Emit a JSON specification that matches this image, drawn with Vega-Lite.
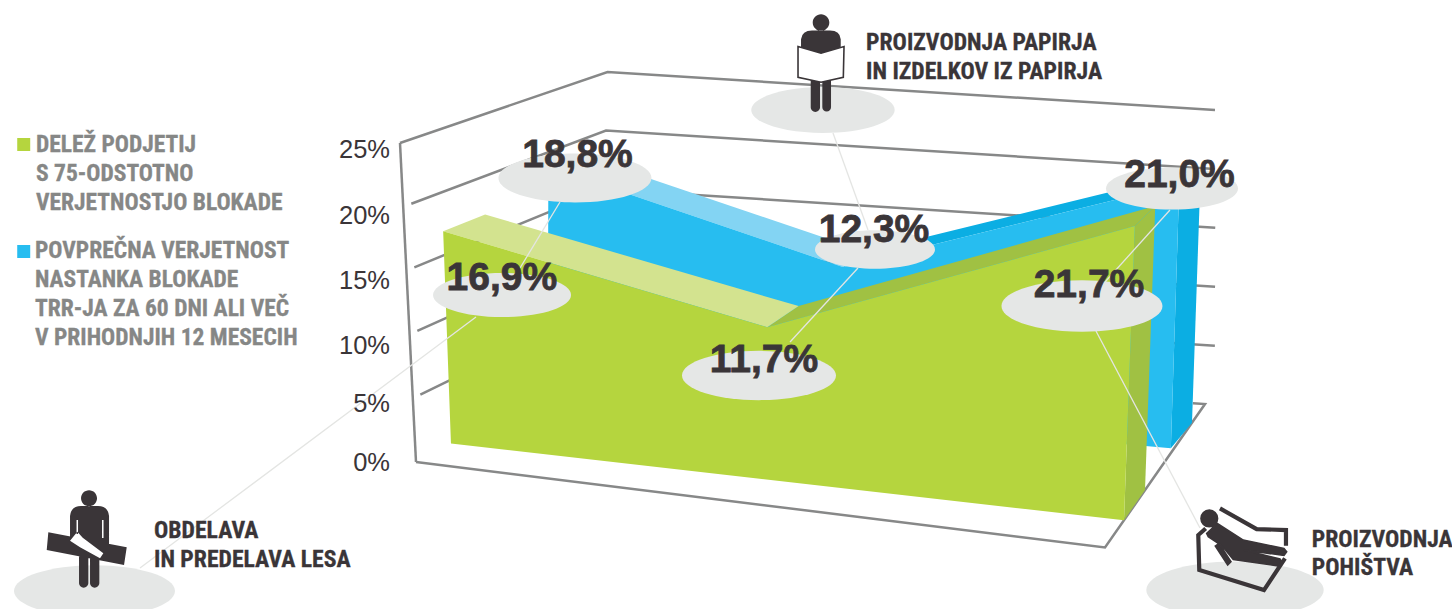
{"$schema":"https://vega.github.io/schema/vega-lite/v6.json","width":1452,"height":609,"padding":0,"autosize":{"type":"none"},"background":"white","view":{"stroke":null},
"datasets":{
"frame":[
{"g":"top","o":1,"u":0,"d":0,"v":0},{"g":"top","o":0,"u":0,"d":0,"v":25},{"g":"floor","o":0,"u":0,"d":0,"v":0},{"g":"floor","o":1,"u":1,"d":0,"v":0},{"g":"floor","o":2,"u":1,"d":1,"v":0},{"g":"floor","o":3,"u":0.98,"d":1,"v":0},
{"g":"w25","o":0,"u":0,"d":0,"v":25},{"g":"w25","o":1,"u":0,"d":1,"v":25},{"g":"w25","o":2,"u":1,"d":1,"v":25},
{"g":"w20","o":0,"u":0,"d":0.04,"v":20},{"g":"w20","o":1,"u":0,"d":1,"v":20},{"g":"w20","o":2,"u":1.003,"d":1,"v":20},
{"g":"w15","o":0,"u":0,"d":0.04,"v":15},{"g":"w15","o":1,"u":0,"d":1,"v":15},{"g":"w15","o":2,"u":1.007,"d":1,"v":15},
{"g":"w10","o":0,"u":0,"d":0.04,"v":10},{"g":"w10","o":1,"u":0,"d":1,"v":10},{"g":"w10","o":2,"u":1.01,"d":1,"v":10},
{"g":"w5","o":0,"u":0,"d":0.04,"v":5},{"g":"w5","o":1,"u":0,"d":1,"v":5},{"g":"w5","o":2,"u":1.013,"d":1,"v":5}],
"faces":[
{"f":"bside","o":0,"u":0.99,"d":0.716,"v":21},{"f":"bside","o":1,"u":1,"d":0.87,"v":21},{"f":"bside","o":2,"u":1,"d":0.87,"v":0},{"f":"bside","o":3,"u":0.995,"d":0.69,"v":0},
{"f":"bband","o":0,"u":0.465,"d":0.716,"v":12.3},{"f":"bband","o":1,"u":0.465,"d":0.87,"v":12.3},{"f":"bband","o":2,"u":1,"d":0.87,"v":21},{"f":"bband","o":3,"u":0.99,"d":0.716,"v":21},
{"f":"btop","o":0,"u":0,"d":0.716,"v":18.8},{"f":"btop","o":1,"u":0,"d":0.87,"v":18.8},{"f":"btop","o":2,"u":0.465,"d":0.87,"v":12.3},{"f":"btop","o":3,"u":0.465,"d":0.716,"v":12.3},
{"f":"bfront","o":0,"u":0,"d":0.716,"v":18.8},{"f":"bfront","o":1,"u":0.465,"d":0.716,"v":12.3},{"f":"bfront","o":2,"u":0.99,"d":0.716,"v":21},{"f":"bfront","o":3,"u":0.995,"d":0.69,"v":0},{"f":"bfront","o":4,"u":0,"d":0.716,"v":0},
{"f":"gside","o":0,"u":1,"d":0.19,"v":21.7},{"f":"gside","o":1,"u":1,"d":0.4,"v":21.7},{"f":"gside","o":2,"u":1,"d":0.4,"v":0},{"f":"gside","o":3,"u":1,"d":0.19,"v":0},
{"f":"gband","o":0,"u":0.47,"d":0.19,"v":11.7},{"f":"gband","o":1,"u":0.47,"d":0.4,"v":11.7},{"f":"gband","o":2,"u":1,"d":0.4,"v":21.7},{"f":"gband","o":3,"u":1,"d":0.19,"v":21.7},
{"f":"gtop","o":0,"u":0,"d":0.19,"v":16.9},{"f":"gtop","o":1,"u":0,"d":0.4,"v":16.9},{"f":"gtop","o":2,"u":0.47,"d":0.4,"v":11.7},{"f":"gtop","o":3,"u":0.47,"d":0.19,"v":11.7},
{"f":"gfront","o":0,"u":0,"d":0.19,"v":16.9},{"f":"gfront","o":1,"u":0.47,"d":0.19,"v":11.7},{"f":"gfront","o":2,"u":1,"d":0.19,"v":21.7},{"f":"gfront","o":3,"u":1,"d":0.19,"v":0},{"f":"gfront","o":4,"u":0,"d":0.19,"v":0}],
"leaders":[
{"g":"a","o":0,"u":20.57,"v":20.8},{"g":"a","o":1,"u":14.86,"v":15.52},
{"g":"b","o":0,"u":8.57,"v":11.6},{"g":"b","o":1,"u":-39.43,"v":-8.48},
{"g":"c","o":0,"u":59.57,"v":26.32},{"g":"c","o":1,"u":64.57,"v":18.56},
{"g":"d","o":0,"u":63.14,"v":15.52},{"g":"d","o":1,"u":53.43,"v":9.6},
{"g":"e","o":0,"u":107.71,"v":20.16},{"g":"e","o":1,"u":98.43,"v":14.4},
{"g":"f","o":0,"u":97.14,"v":10.48},{"g":"f","o":1,"u":112,"v":-5.28}],
"discs":[
{"k":"paper","u":58.14,"v":28.16},{"k":"wood","u":-45.93,"v":-10.32},{"k":"chair","u":117,"v":-10.24},
{"k":"b188","u":22.71,"v":22.72},{"k":"g169","u":12.29,"v":13.36},{"k":"b123","u":65.57,"v":17},{"k":"b210","u":108,"v":21.88},{"k":"g217","u":95.14,"v":12.48},{"k":"g117","u":49,"v":6.92}],
"values":[
{"label":"18,8%","series":"blue","value":18.8,"u":23.07,"v":23.62},
{"label":"12,3%","series":"blue","value":12.3,"u":65.43,"v":17.62},
{"label":"21,0%","series":"blue","value":21.0,"u":109.07,"v":21.98},
{"label":"16,9%","series":"green","value":16.9,"u":12.26,"v":13.76},
{"label":"11,7%","series":"green","value":11.7,"u":49.71,"v":7.24},
{"label":"21,7%","series":"green","value":21.7,"u":96.14,"v":13.18}],
"ticks":[{"t":"25%","u":-3.71,"v":24.32},{"t":"20%","u":-3.71,"v":19.04},{"t":"15%","u":-3.71,"v":13.84},{"t":"10%","u":-3.71,"v":8.64},{"t":"5%","u":-3.71,"v":4},{"t":"0%","u":-3.71,"v":-0.72}],
"captions":[
{"t":"PROIZVODNJA PAPIRJA\nIN IZDELKOV IZ PAPIRJA","u":64.29,"v":32.96},
{"t":"OBDELAVA\nIN PREDELAVA LESA","u":-37.43,"v":-6.08},
{"t":"PROIZVODNJA\nPOHIŠTVA","u":127.96,"v":-6.77}],
"legend":[
{"t":"DELEŽ PODJETIJ\nS 75-ODSTOTNO\nVERJETNOSTJO BLOKADE","s":"green","u":-54.29,"v":24.8,"mu":-56.04,"mv":25.4},
{"t":"POVPREČNA VERJETNOST\nNASTANKA BLOKADE\nTRR-JA ZA 60 DNI ALI VEČ\nV PRIHODNJIH 12 MESECIH","s":"blue","u":-54.43,"v":16.32,"mu":-56.04,"mv":16.84}],
"icons":[{"icon":"paper","u":57.86,"v":31.9},{"icon":"wood","u":-46.71,"v":-6.24},{"icon":"chair","u":117.71,"v":-6.78}]
},
"encoding":{
"x":{"field":"sx","type":"quantitative","scale":{"domain":[0,1452],"nice":false,"zero":false},"axis":null},
"y":{"field":"sy","type":"quantitative","scale":{"domain":[609,0],"nice":false,"zero":false},"axis":null}},
"layer":[
{"data":{"name":"frame"},"transform":[
{"calculate":"(416*(1-datum.u)+1105*datum.u)*(1-datum.d)+(600*(1-datum.u)+1205*datum.u)*datum.d","as":"fx"},
{"calculate":"(462*(1-datum.u)+547.5*datum.u)*(1-datum.d)+(365*(1-datum.u)+404*datum.u)*datum.d","as":"fy"},
{"calculate":"(400*(1-datum.u)+1118*datum.u)*(1-datum.d)+(607.5*(1-datum.u)+1215*datum.u)*datum.d","as":"tx"},
{"calculate":"(143*(1-datum.u)+198*datum.u)*(1-datum.d)+(72*(1-datum.u)+110*datum.u)*datum.d","as":"ty"},
{"calculate":"datum.fx+(datum.tx-datum.fx)*datum.v/25","as":"sx"},{"calculate":"datum.fy+(datum.ty-datum.fy)*datum.v/25","as":"sy"}],
"mark":{"type":"line","stroke":"#878888","strokeWidth":2.5,"strokeJoin":"miter"},
"encoding":{"detail":{"field":"g"},"order":{"field":"o","type":"quantitative"}}},
{"data":{"name":"faces"},"transform":[
{"calculate":"(416*(1-datum.u)+1105*datum.u)*(1-datum.d)+(600*(1-datum.u)+1205*datum.u)*datum.d","as":"fx"},
{"calculate":"(462*(1-datum.u)+547.5*datum.u)*(1-datum.d)+(365*(1-datum.u)+404*datum.u)*datum.d","as":"fy"},
{"calculate":"(400*(1-datum.u)+1118*datum.u)*(1-datum.d)+(607.5*(1-datum.u)+1215*datum.u)*datum.d","as":"tx"},
{"calculate":"(143*(1-datum.u)+198*datum.u)*(1-datum.d)+(72*(1-datum.u)+110*datum.u)*datum.d","as":"ty"},
{"calculate":"datum.fx+(datum.tx-datum.fx)*datum.v/25","as":"sx"},{"calculate":"datum.fy+(datum.ty-datum.fy)*datum.v/25","as":"sy"}],
"mark":{"type":"line","filled":true,"strokeWidth":0},
"encoding":{"fill":{"field":"f","type":"nominal","legend":null,"scale":{"domain":["bside","bband","btop","bfront","gside","gband","gtop","gfront"],"range":["#0baee3","#0baee3","#83d4f3","#27bdf0","#a0c143","#a0c143","#d3e38f","#b5d53e"]}},"order":{"field":"o","type":"quantitative"}}},
{"data":{"name":"leaders"},"transform":[{"calculate":"416+7*datum.u","as":"sx"},{"calculate":"462-12.5*datum.v","as":"sy"}],
"mark":{"type":"line","stroke":"#e4e5e3","strokeWidth":1.3},"encoding":{"detail":{"field":"g"},"order":{"field":"o","type":"quantitative"}}},
{"data":{"name":"discs"},"transform":[{"calculate":"416+7*datum.u","as":"sx"},{"calculate":"462-12.5*datum.v","as":"sy"}],
"mark":{"type":"point","filled":true,"opacity":1,"color":"#e5e7e6","shape":"M-1,0A1,0.32 0 1,1 1,0A1,0.32 0 1,1 -1,0Z"},
"encoding":{"size":{"field":"k","type":"nominal","legend":null,"scale":{"type":"ordinal","domain":["paper","wood","chair","b188","g169","b123","b210","g217","g117"],"range":[20564,25921,31471,23409,19044,14400,17424,25921,23716]}}}},
{"data":{"name":"icons"},"transform":[{"filter":"datum.icon=='paper'"},{"calculate":"416+7*datum.u","as":"sx"},{"calculate":"462-12.5*datum.v","as":"sy"}],
"mark":{"type":"point","filled":true,"opacity":1,"size":4,"color":"#3a3538","shape":"M-8.3,-40.7a8.3,8.3 0 1,0 16.6,0a8.3,8.3 0 1,0 -16.6,0Z M-20,-14V-24Q-19,-32.7 -9,-32.7H9Q19,-32.7 19.7,-24V-14L0,-8Z M-10.3,10H-1V44a4.65,4.65 0 0,1 -9.3,0Z M1.3,10H10V44a4.35,4.35 0 0,1 -8.7,0Z"}},
{"data":{"name":"icons"},"transform":[{"filter":"datum.icon=='paper'"},{"calculate":"416+7*datum.u","as":"sx"},{"calculate":"462-12.5*datum.v","as":"sy"}],
"mark":{"type":"point","filled":true,"opacity":1,"size":4,"fill":"white","stroke":"#3a3538","strokeWidth":1.6,"shape":"M-23,-16.7L0,-10L23,-16.7L22.3,14L0,19L-23,14Z"}},
{"data":{"name":"icons"},"transform":[{"filter":"datum.icon=='wood'"},{"calculate":"416+7*datum.u","as":"sx"},{"calculate":"462-12.5*datum.v","as":"sy"}],
"mark":{"type":"point","filled":true,"opacity":1,"size":4,"color":"#3a3538","shape":"M-8,-41.7a8,8 0 1,0 16,0a8,8 0 1,0 -16,0Z M-19,5V-24Q-18,-34 -8,-34H9Q19,-34 20,-24V12H-19Z M-10,15H-0.7V43a4.65,4.65 0 0,1 -9.3,0Z M1,15H10.3V43a4.65,4.65 0 0,1 -9.3,0Z M-40.7,-7.7L37.7,7.3L35,25L-42.3,10Z"}},
{"data":{"name":"icons"},"transform":[{"filter":"datum.icon=='wood'"},{"calculate":"416+7*datum.u","as":"sx"},{"calculate":"462-12.5*datum.v","as":"sy"}],
"mark":{"type":"point","filled":true,"opacity":1,"size":4,"color":"white","shape":"M-19,0.7L-11.7,-8.3L-6.3,-2.3L14.3,13.3L11,18.3L-9,7.3Z M-12.5,-20V-6H-11V-20Z M13,-20V-2H14.5V-20Z"}},
{"data":{"name":"icons"},"transform":[{"filter":"datum.icon=='chair'"},{"calculate":"416+7*datum.u","as":"sx"},{"calculate":"462-12.5*datum.v","as":"sy"}],
"mark":{"type":"point","filled":true,"opacity":1,"size":4,"fill":"#3a3538","stroke":"#3a3538","strokeWidth":1.6,"shape":"M-39,-28.3a8.3,8.3 0 1,0 16.6,0a8.3,8.3 0 1,0 -16.6,0Z M-22.7,-23.3L3.3,-6.7L44,1.7L46.7,5L44,8.7L4,3.3L40,12.3L42.3,16L39.3,19.3L-6.7,12.7L-18,-1L-31.7,-10L-33.3,-13.3Z M-24.7,-0.7L-21,-3.3L-9,15L-12.3,18.3Z"}},
{"data":{"name":"icons"},"transform":[{"filter":"datum.icon=='chair'"},{"calculate":"416+7*datum.u","as":"sx"},{"calculate":"462-12.5*datum.v","as":"sy"}],
"mark":{"type":"point","filled":false,"opacity":1,"size":4,"fill":"transparent","stroke":"#3a3538","strokeWidth":4.2,"shape":"M-20,-38.3L16.7,-17.7L46,-16.7V-1 M45,11.7L24,43.3L-40.7,23.3L-41.7,-11.7L-34.3,-18.3"}},
{"data":{"name":"ticks"},"transform":[{"calculate":"416+7*datum.u","as":"sx"},{"calculate":"462-12.5*datum.v","as":"sy"}],
"mark":{"type":"text","font":"Liberation Sans","fontSize":25.5,"align":"right","baseline":"alphabetic","color":"#3a3538"},"encoding":{"text":{"field":"t"}}},
{"data":{"name":"captions"},"transform":[{"calculate":"416+7*datum.u","as":"sx"},{"calculate":"462-12.5*datum.v","as":"sy"}],
"mark":{"type":"text","font":"Roboto Condensed, Roboto","fontWeight":"bold","fontSize":23.7,"align":"left","baseline":"alphabetic","lineBreak":"\n","lineHeight":28.5,"color":"#3a3538","stroke":"#3a3538","strokeWidth":0.3},"encoding":{"text":{"field":"t"}}},
{"data":{"name":"legend"},"transform":[{"calculate":"416+7*datum.u","as":"sx"},{"calculate":"462-12.5*datum.v","as":"sy"}],
"mark":{"type":"text","font":"Roboto Condensed, Roboto","fontWeight":"bold","fontSize":23.5,"align":"left","baseline":"alphabetic","lineBreak":"\n","lineHeight":29,"color":"#868786","stroke":"#868786","strokeWidth":0.3},"encoding":{"text":{"field":"t"}}},
{"data":{"name":"legend"},"transform":[{"calculate":"416+7*datum.mu","as":"sx"},{"calculate":"462-12.5*datum.mv","as":"sy"}],
"mark":{"type":"point","shape":"square","filled":true,"opacity":1,"size":169},"encoding":{"color":{"field":"s","type":"nominal","legend":null,"scale":{"domain":["green","blue"],"range":["#b5d53e","#27bdf0"]}}}},
{"data":{"name":"values"},"transform":[{"calculate":"416+7*datum.u","as":"sx"},{"calculate":"462-12.5*datum.v","as":"sy"}],
"mark":{"type":"text","font":"Liberation Sans","fontWeight":"bold","fontSize":39,"align":"center","baseline":"alphabetic","color":"#3a3538","stroke":"#3a3538","strokeWidth":0.8},"encoding":{"text":{"field":"label"}}}
]}
